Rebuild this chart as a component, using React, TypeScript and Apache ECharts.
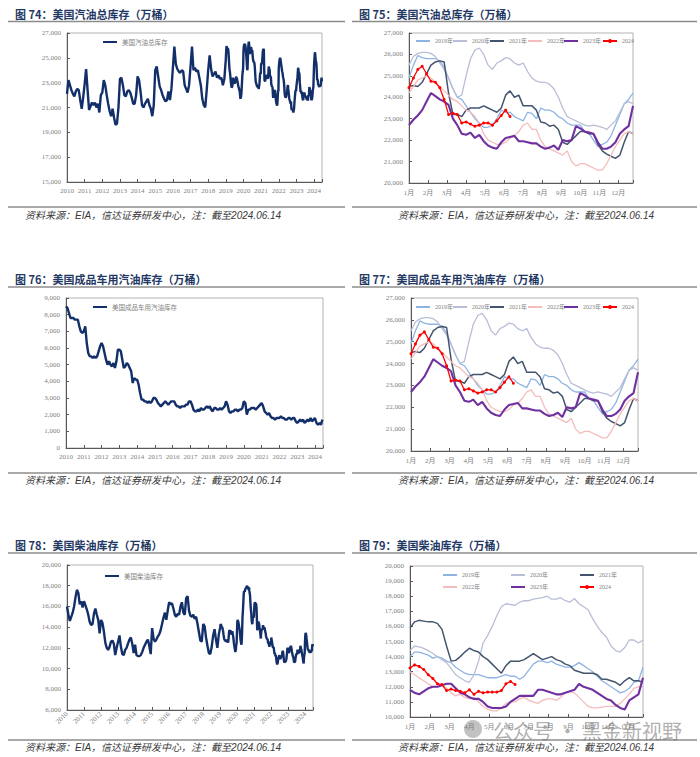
import React, { useEffect, useRef } from 'react';
import * as echarts from 'echarts';

// ---------- DATA ----------
// 美国汽油总库存（万桶），月度 2010-2018
const gasMonthly2010to2018 = [
  22100, 23200, 22800, 22400, 22100, 21900, 22300, 22500, 22400, 21600, 20900, 21800,
  22900, 24100, 22400, 20800, 21100, 21400, 21200, 21400, 21000, 21300, 20600, 22000,
  22200, 23200, 22800, 22000, 21300, 20700, 20300, 20900, 20200, 19600, 19700, 21000,
  23300, 23400, 22800, 22000, 21900, 22300, 22400, 22200, 21800, 21300, 21300, 22000,
  23500, 23200, 22300, 21200, 21000, 21300, 21500, 21700, 21200, 20900, 20300, 21200,
  24000, 24300, 23500, 22700, 22400, 22000, 21700, 21500, 21600, 22300, 21600, 22500,
  24200, 25900, 24500, 24100, 23900, 23800, 24000, 23900, 22800, 22500, 22200, 22800,
  24300, 25900, 24000, 24200, 23900, 24000, 23400, 22800, 21700, 21200, 21000, 22400,
  24000, 25200, 24100, 23500, 23700, 23900, 23400, 23600, 23300, 23400, 22800, 23300,
];

// 美国汽油总库存 周度（季节性）
const gas2019 = [24900, 25500, 25950, 25850, 25800, 25800, 25800, 25700, 25400, 24900, 24400, 24000, 23900, 23600, 23300, 23000, 22800, 22600, 22600, 22700, 23000, 23400, 23300, 23300, 23100, 23000, 22900, 23300, 23250, 23000, 23500, 23400, 23400, 23300, 23100, 23000, 22800, 22700, 22700, 22700, 22400, 22300, 22000, 21700, 21800, 21900, 22200, 22700, 23200, 23700, 23900, 24200];
const gas2020 = [25500, 25900, 26050, 26100, 26100, 26050, 25900, 25600, 25300, 24900, 24400, 24000, 24100, 25000, 25800, 26200, 26300, 26000, 25500, 25300, 25600, 25700, 25850, 25800, 25600, 25500, 25600, 25200, 24900, 24750, 24700, 24700, 24600, 24400, 24000, 23500, 23100, 23000, 22900, 22800, 22700, 22650, 22700, 22650, 22600, 22500, 22700, 22900, 23300, 23700, 23800, 23700];
const gas2021 = [24500, 24550, 24500, 24700, 25100, 25500, 25650, 25700, 25650, 24200, 23200, 23200, 23100, 23400, 23500, 23500, 23500, 23600, 23500, 23400, 23300, 23500, 24100, 24300, 24000, 24100, 23600, 23600, 23600, 23400, 22850, 22800, 22650, 22700, 22500, 21900, 21800, 22000, 22200, 22400, 22400, 22300, 22300, 21800, 21500, 21350, 21250, 21150, 21300, 21900, 22400, 22300];
const gas2022 = [24200, 24500, 24800, 24900, 25000, 24900, 24700, 24500, 24300, 24100, 23900, 23800, 23600, 23400, 23300, 23100, 22800, 22300, 22000, 21900, 21800, 21800, 21900, 22100, 22200, 22400, 22700, 22800, 22500, 22500, 22000, 21700, 21600, 21500, 21400, 21300, 21500, 21000, 20800, 20900, 20900, 20800, 20700, 20600, 20600, 20900, 21300, 21700, 22000, 22300, 22400, 22300];
const gas2023 = [22700, 22950, 23150, 23400, 23800, 24200, 24050, 23900, 23800, 23650, 23000, 22700, 22300, 22250, 22350, 22100, 22250, 21950, 21750, 21650, 21600, 21900, 22100, 22150, 22200, 21950, 21950, 21900, 21850, 21850, 21700, 21600, 21650, 21750, 21550, 22000, 21950, 22000, 22650, 22550, 22400, 22350, 22300, 21900, 21600, 21600, 21700, 21900, 22300, 22500, 22650, 23600];
const gas2024 = [24450, 24900, 25300, 25450, 25100, 24750, 24700, 24450, 23900, 23200, 23250, 23200, 22800, 22850, 22750, 22650, 22700, 22800, 22800, 22700, 22900, 23150, 23400, 23100];

// 美国成品车用汽油库存（万桶），月度 2010-2024.06
const finishedGasMonthly = [
  8500, 8400, 8100, 7800, 7800, 7800, 7700, 7700, 7700, 7300, 7000, 6900,
  7000, 7300, 6300, 5700, 5500, 5500, 5400, 5500, 5400, 5500, 5800, 6100,
  6300, 6100, 5700, 5300, 5000, 5200, 5000, 4900, 5100, 4800, 5200, 5900,
  5900, 5800, 5300, 4800, 4900, 5100, 5000, 4800, 4600, 3900, 4200, 4100,
  4100, 3800, 3300, 2900, 2900, 2800, 2800, 2700, 2800, 2700, 2800, 3000,
  3000, 2900, 2700, 2600, 2500, 2600, 2700, 2800, 2700, 2600, 2700, 2800,
  2800, 2800, 2600, 2500, 2500, 2400, 2500, 2500, 2500, 2600, 2600, 2800,
  2800, 2600, 2300, 2200, 2200, 2300, 2200, 2400, 2300, 2300, 2400, 2500,
  2400, 2500, 2300, 2200, 2400, 2400, 2300, 2300, 2400, 2300, 2400, 2500,
  2800, 2600, 2200, 2100, 2200, 2200, 2300, 2300, 2200, 2300, 2300, 2400,
  2800, 2700, 2000, 2300, 2300, 2400, 2400, 2400, 2300, 2400, 2500, 2600,
  2700, 2500, 2200, 2100, 2000, 2100, 1900, 1800, 1800, 1700, 1800, 1800,
  1800, 1900, 1800, 1800, 1700, 1700, 1800, 1800, 1700, 1800, 1800, 1600,
  1500, 1600, 1700, 1600, 1700, 1500, 1600, 1700, 1600, 1800, 1600, 1700,
  1800, 1500, 1400, 1500, 1400, 1700,
];

// 美国柴油库存（万桶），月度 2010-2018
const dslMonthly2010to2018 = [
  16000, 15200, 14600, 15000, 15400, 16000, 16900, 17600, 17300, 16200, 16500, 15900,
  16500, 16100, 15700, 15200, 14500, 14200, 14300, 15300, 15800, 15200, 14700, 13400,
  14700, 14400, 13600, 12500, 12000, 11800, 12100, 12600, 12700, 12400, 11300, 12000,
  12600, 13200, 12100, 11400, 11300, 11800, 12000, 12400, 12800, 13000, 12400, 11500,
  12300, 11300, 11200, 11200, 11300, 11600, 12000, 12300, 12600, 12800, 12200, 11400,
  13900, 12900, 12600, 12800, 13100, 13300, 13700, 14300, 14900, 15400, 14700, 15600,
  16400, 16200, 16300, 15800, 15200, 15000, 15300, 15200, 16000, 16400, 15400, 15200,
  16800, 17000, 15600, 15100, 15000, 15200, 14800, 15000, 14300, 13500, 12700, 12600,
  14300, 14100, 13000, 12200, 11500, 11400, 12100, 13200, 13800, 12800, 12000, 13300,
];

// 美国柴油库存 周度（季节性）
const dsl2019 = [14000, 14300, 14300, 14200, 14100, 13900, 14000, 13900, 13700, 13600, 13300, 13100, 12900, 12800, 12800, 12800, 12700, 12600, 12600, 12600, 12700, 12800, 12700, 12700, 12500, 12700, 13100, 13500, 13700, 13700, 13600, 13700, 13500, 13400, 13300, 13300, 13400, 13600, 13400, 13200, 13000, 12700, 12400, 12200, 12000, 11800, 11600, 11700, 11900, 12300, 12400, 13300];
const dsl2020 = [14400, 14700, 14650, 14550, 14400, 14200, 14000, 13800, 13600, 13200, 12800, 12600, 12400, 12300, 12800, 13700, 14900, 15400, 16000, 16700, 17300, 17500, 17450, 17400, 17600, 17700, 17700, 17800, 17850, 17900, 18000, 17800, 17800, 17900, 17700, 17600, 17850, 17500, 17300, 17100, 16500, 16000, 15600, 15300, 14700, 14400, 14300, 14600, 15100, 15100, 14900, 15100];
const dsl2021 = [15900, 16300, 16400, 16350, 16300, 16300, 16200, 15800, 14700, 13700, 13750, 14000, 14300, 14550, 14400, 14300, 14000, 13800, 13500, 13200, 12900, 13400, 13700, 13700, 13700, 13800, 14000, 14200, 14000, 13800, 13900, 14000, 13800, 13700, 13500, 13400, 13100, 13000, 12900, 12900, 12900, 12800, 12500, 12500, 12400, 12300, 12100, 12400, 12600, 12400, 12400, 12300];
const dsl2022 = [13000, 12800, 12600, 12400, 12200, 12000, 12000, 12100, 11900, 11600, 11400, 11500, 11300, 11200, 11300, 11000, 10700, 10500, 10400, 10400, 10600, 10900, 11000, 11000, 11200, 11300, 11100, 11000, 10900, 11100, 11200, 11200, 11100, 11300, 11600, 11700, 11600, 11300, 11000, 10700, 10600, 10600, 10650, 10700, 10700, 10700, 10900, 11200, 11500, 11900, 12000, 12000];
const dsl2023 = [11800, 11600, 11500, 11700, 11900, 12000, 12000, 12100, 12200, 12200, 11900, 11600, 11500, 11300, 11200, 11200, 11000, 10700, 10600, 10600, 10600, 10700, 11000, 11200, 11400, 11400, 11400, 11400, 11800, 11800, 11700, 11600, 11500, 11500, 11600, 11700, 11800, 12200, 12000, 11900, 11800, 11600, 11400, 11200, 11100, 10800, 10600, 10500, 11100, 11300, 11500, 12600];
const dsl2024 = [13250, 13450, 13350, 13150, 12800, 12550, 12200, 12150, 11750, 11850, 11750, 11700, 11600, 11800, 11500, 11700, 11600, 11650, 11650, 11650, 11750, 12200, 12350, 12150];

const seasonNames = ['2019年', '2020年', '2021年', '2022年', '2023年', '2024'];
const seasonColors = ['#8fb4e3', '#b9bed8', '#44546e', '#f5bcbc', '#7030a0', '#ff0000'];
const seasonWidths = [1.3, 1.3, 1.5, 1.3, 2.1, 1.3];
const gasSeasons = [gas2019, gas2020, gas2021, gas2022, gas2023, gas2024];
const dslSeasons = [dsl2019, dsl2020, dsl2021, dsl2022, dsl2023, dsl2024];

const SOURCE = '资料来源：EIA，信达证券研发中心，注：截至2024.06.14';

// ---------- helpers ----------
const SERIF = "'Liberation Serif','Noto Sans CJK SC',serif";
const GRAY = '#7f7f7f';
const BORDER = '#b3b3b3';
const AXIS = '#595959';
const NAVY = '#132f69';
const WEEKS_PER_MONTH = 52 / 12;

const monthly = (arr: number[]) => arr.map((v, i) => [2010 + i / 12, v]);
const weeklyYears = (arrs: number[][], startYear: number) =>
  arrs.flatMap((arr, k) => arr.map((v, w) => [startYear + k + w / 52, v]));

const gasLong = [...monthly(gasMonthly2010to2018), ...weeklyYears(gasSeasons, 2019)];
const finishedLong = monthly(finishedGasMonthly);
const dslLong = [...monthly(dslMonthly2010to2018), ...weeklyYears(dslSeasons, 2019)];

const thousands = (v: number) => Number(v).toLocaleString('en-US');

const axisCommon = {
  axisLine: { show: true, lineStyle: { color: AXIS, width: 1 } },
  axisTick: { show: true, inside: true, length: 3, lineStyle: { color: AXIS, width: 1 } },
  splitLine: { show: false },
};

const yearAxis = (gi: number, rotate = 0) => ({
  type: 'value', gridIndex: gi, min: 2010, max: 2024.45, interval: 1, ...axisCommon,
  axisLabel: {
    fontSize: 7, color: GRAY, fontFamily: SERIF, margin: rotate ? 3 : 5, rotate,
    formatter: (v: number) => (Math.abs(v - Math.round(v)) < 1e-6 ? String(Math.round(v)) : ''),
  },
});
const monthAxis = (gi: number) => ({
  type: 'value', gridIndex: gi, min: 0, max: 51, interval: WEEKS_PER_MONTH, ...axisCommon,
  axisLabel: {
    fontSize: 7, color: GRAY, fontFamily: SERIF, margin: 6,
    formatter: (v: number) => {
      const k = v / WEEKS_PER_MONTH;
      const r = Math.round(k);
      return Math.abs(k - r) < 1e-3 && r < 12 ? `${r + 1}月` : '';
    },
  },
});
const valAxis = (gi: number, min: number, max: number, interval: number) => ({
  type: 'value', gridIndex: gi, min, max, interval, ...axisCommon,
  axisLabel: { fontSize: 7, color: GRAY, fontFamily: SERIF, margin: 6, formatter: thousands },
});

const longSeries = (gi: number, name: string, data: number[][]) => ({
  type: 'line', name, xAxisIndex: gi, yAxisIndex: gi, data, symbol: 'none',
  lineStyle: { color: NAVY, width: 2.4 }, itemStyle: { color: NAVY }, silent: true,
});
const seasonalSeries = (gi: number, arrays: number[][]) =>
  seasonNames.map((name, k) => ({
    type: 'line', name, xAxisIndex: gi, yAxisIndex: gi,
    data: arrays[k].map((v, w) => [w, v]),
    symbol: k === 5 ? 'circle' : 'none', symbolSize: 3, showSymbol: k === 5,
    lineStyle: { color: seasonColors[k], width: seasonWidths[k] },
    itemStyle: { color: seasonColors[k] },
    z: k === 5 ? 6 : k === 4 ? 5 : 3, silent: true,
  }));

// legend item; lines without markers hide the legend's marker
const legendItem = (name: string, left: number, cy: number, fontSize = 6) => {
  const withMarker = name === '2024';
  return {
    data: [name], left, top: cy - 4, padding: 0, itemWidth: 14, itemHeight: withMarker ? 5 : 8, itemGap: 0,
    selectedMode: false,
    itemStyle: withMarker ? {} : { opacity: 0 },
    textStyle: { fontSize, color: GRAY, fontFamily: SERIF, lineHeight: 8 },
  };
};
const seasonLegendRow = (xs: number[], cy: number) =>
  seasonNames.map((n, k) => legendItem(n, xs[k], cy));

const title = (text: string, x: number, y: number) => ({
  type: 'text', x, y, silent: true,
  style: { text, font: "bold 11px 'Noto Sans CJK SC'", fill: '#1f3864', verticalAlign: 'middle', textVerticalAlign: 'middle' },
});
const hline = (x1: number, x2: number, y: number) => ({
  type: 'line', silent: true, shape: { x1, y1: y, x2, y2: y }, style: { stroke: '#8c8c8c', lineWidth: 1.5 },
});
const source = (x: number, y: number) => ({
  type: 'text', x, y, silent: true,
  style: { text: SOURCE, font: "italic 10px 'Liberation Sans','Noto Sans CJK SC'", fill: '#3a3a3a', verticalAlign: 'middle', textVerticalAlign: 'middle' },
});

const seasonXs = [415, 452, 489, 527, 563, 602];

const option = {
  animation: false,
  backgroundColor: '#ffffff',
  grid: [
    { left: 67, top: 33, width: 255, height: 149 },
    { left: 409, top: 33, width: 224, height: 150 },
    { left: 66, top: 298, width: 257, height: 150 },
    { left: 411, top: 298, width: 227, height: 153 },
    { left: 67, top: 565, width: 246, height: 145 },
    { left: 410, top: 566, width: 233, height: 151 },
  ].map((g) => ({ ...g, show: true, borderColor: BORDER, borderWidth: 1 })),
  xAxis: [yearAxis(0), monthAxis(1), yearAxis(2), monthAxis(3), yearAxis(4, 45), monthAxis(5)],
  yAxis: [
    valAxis(0, 15000, 27000, 2000),
    valAxis(1, 20000, 27000, 1000),
    valAxis(2, 0, 9000, 1000),
    valAxis(3, 20000, 27000, 1000),
    valAxis(4, 6000, 20000, 2000),
    valAxis(5, 10000, 20000, 1000),
  ],
  legend: [
    legendItem('美国汽油总库存', 102, 42, 6.5),
    ...seasonLegendRow(seasonXs, 41),
    legendItem('美国成品车用汽油库存', 92, 307, 6.5),
    ...seasonLegendRow(seasonXs, 307),
    legendItem('美国柴油库存', 104, 576, 6.5),
    legendItem('2019年', 442, 575), legendItem('2020年', 510, 575), legendItem('2021年', 579, 575),
    legendItem('2022年', 442, 587), legendItem('2023年', 510, 587), legendItem('2024', 579, 587),
  ],
  series: [
    longSeries(0, '美国汽油总库存', gasLong),
    ...seasonalSeries(1, gasSeasons),
    longSeries(2, '美国成品车用汽油库存', finishedLong),
    ...seasonalSeries(3, gasSeasons),
    longSeries(4, '美国柴油库存', dslLong),
    ...seasonalSeries(5, dslSeasons),
  ],
  graphic: [
    title('图 74：美国汽油总库存（万桶）', 15, 14),
    title('图 75：美国汽油总库存（万桶）', 359, 14),
    title('图 76：美国成品车用汽油库存（万桶）', 15, 279),
    title('图 77：美国成品车用汽油库存（万桶）', 359, 279),
    title('图 78：美国柴油库存（万桶）', 15, 545),
    title('图 79：美国柴油库存（万桶）', 359, 545),
    hline(8, 345, 21.5), hline(352, 697, 21.5),
    hline(8, 345, 207), hline(352, 697, 207),
    hline(8, 345, 287), hline(352, 697, 287),
    hline(8, 345, 473), hline(352, 697, 473),
    hline(8, 345, 553), hline(352, 697, 553),
    hline(8, 345, 740), hline(352, 697, 740),
    source(25, 215), source(398, 215),
    source(25, 480), source(398, 480),
    source(25, 747), source(398, 747),
    {
      type: 'circle', silent: true, shape: { cx: 473, cy: 729, r: 9 },
      style: { fill: 'rgba(120,120,120,0.45)' }, z: 100,
    },
    {
      type: 'text', x: 493, y: 730, silent: true, z: 100,
      style: { text: '公众号 · 黑金新视野', font: "20px 'Noto Sans CJK SC'", fill: 'rgba(110,110,110,0.55)', verticalAlign: 'middle', textVerticalAlign: 'middle' },
    },
  ],
};

export default function App() {
  const ref = useRef<HTMLDivElement>(null);
  useEffect(() => {
    if (!ref.current) return;
    const chart = echarts.init(ref.current, null, { renderer: 'svg' });
    chart.setOption(option as any);
    return () => chart.dispose();
  }, []);
  return (
    <div
      ref={ref}
      style={{ position: 'absolute', left: 0, top: 0, width: 700, height: 757, background: '#fff' }}
    />
  );
}
